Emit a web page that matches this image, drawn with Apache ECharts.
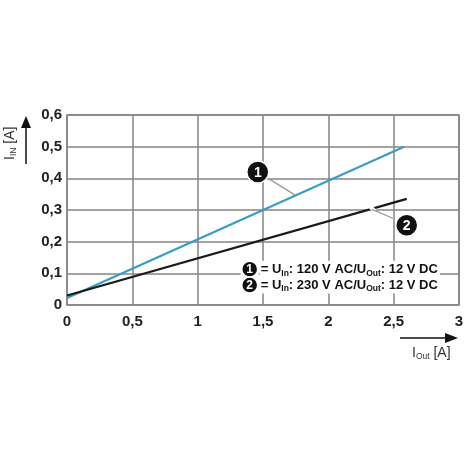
<!DOCTYPE html>
<html><head><meta charset="utf-8">
<script src="https://cdn.jsdelivr.net/npm/echarts@6/dist/echarts.min.js"></script>
<style>html,body{margin:0;padding:0;background:#fff}#c{width:470px;height:470px}</style>
</head><body><div id="c"></div>
<script>
const xTicks = ['0','0,5','1','1,5','2','2,5','3'];
const yTicks = ['0','0,1','0,2','0,3','0,4','0,5','0,6'];
const series1X = [0, 2.58];
const series1Y = [0.022, 0.5];
const series2X = [0, 2.6];
const series2Y = [0.03, 0.335];
const legend1 = ['U', 'In', ': 120 V AC/U', 'Out', ': 12 V DC'];
const legend2 = ['U', 'In', ': 230 V AC/U', 'Out', ': 12 V DC'];

const FONT = '"Liberation Sans", Arial, sans-serif';
const chart = echarts.init(document.getElementById('c'));
const grid = {left: 67, right: 11, top: 115, bottom: 165};
chart.setOption({
  animation: false,
  grid: Object.assign({show: true, borderColor: '#858585', borderWidth: 1.5, backgroundColor: '#fff'}, grid),
  xAxis: {
    type: 'value', min: 0, max: 3, interval: 0.5,
    axisLine: {show: false}, axisTick: {show: false},
    splitLine: {lineStyle: {color: '#858585', width: 1.5}},
    axisLabel: {fontFamily: FONT, fontWeight: 'bold', fontSize: 15, color: '#222', margin: 9,
      formatter: v => xTicks[Math.round(v * 2)]}
  },
  yAxis: {
    type: 'value', min: 0, max: 0.6, interval: 0.1,
    axisLine: {show: false}, axisTick: {show: false},
    splitLine: {lineStyle: {color: '#858585', width: 1.5}},
    axisLabel: {fontFamily: FONT, fontWeight: 'bold', fontSize: 15, color: '#222', margin: 5,
      formatter: v => yTicks[Math.round(v * 10)]}
  },
  series: [
    {type: 'line', data: series1X.map((x, i) => [x, series1Y[i]]), symbol: 'none',
     lineStyle: {color: '#3a9cc4', width: 2.2}, z: 3},
    {type: 'line', data: series2X.map((x, i) => [x, series2Y[i]]), symbol: 'none',
     lineStyle: {color: '#1a1a1a', width: 2.2}, z: 4}
  ]
});

function P(x, y) { return chart.convertToPixel({gridIndex: 0}, [x, y]); }
function circ(x, y, n) {
  const p = P(x, y);
  return [
    {type: 'circle', shape: {cx: p[0], cy: p[1], r: 11}, style: {fill: '#111', stroke: '#fff', lineWidth: 1.5}, z: 20},
    {type: 'text', x: p[0], y: p[1] + 1, style: {text: n, fill: '#fff', font: 'bold 14px ' + FONT, align: 'center', verticalAlign: 'middle'}, z: 21}
  ];
}
function leader(a, b) {
  const p = P(a[0], a[1]), q = P(b[0], b[1]);
  return {type: 'line', shape: {x1: p[0], y1: p[1], x2: q[0], y2: q[1]}, style: {stroke: '#999', lineWidth: 1.3}, z: 19};
}
function gapLine(a, b) {
  const p = P(a[0], a[1]), q = P(b[0], b[1]);
  return {type: 'line', shape: {x1: p[0], y1: p[1], x2: q[0], y2: q[1]}, style: {stroke: '#fff', lineWidth: 4}, z: 18};
}
function legendRow(x, y, n, parts) {
  const p = P(x, y);
  const items = circ(0, 0, n);
  const cx = p[0] + 5, cy = p[1];
  items[0].shape = {cx: cx, cy: cy, r: 8};
  items[1].x = cx; items[1].y = cy + 0.5; items[1].style.font = 'bold 12px ' + FONT;
  items.push({type: 'text', x: cx + 10, y: cy, z: 21, style: {
    text: '{m|= ' + parts[0] + '}{s|' + parts[1] + '}{m|' + parts[2] + '}{s|' + parts[3] + '}{m|' + parts[4] + '}',
    verticalAlign: 'middle', backgroundColor: '#fff', padding: [1, 2, 0, 1],
    rich: {
      m: {font: 'bold 13px ' + FONT, fill: '#111', lineHeight: 16, verticalAlign: 'middle'},
      s: {font: 'bold 8.5px ' + FONT, fill: '#111', lineHeight: 16, verticalAlign: 'bottom', padding: [6, 0, 0, 0]}
    }}});
  items.unshift({type: 'rect', shape: {x: cx - 9, y: cy - 8, width: 18, height: 16}, style: {fill: '#fff'}, z: 17});
  return items;
}

const g = [];
g.push(...circ(1.46, 0.42, '1'));
g.push(leader([1.54, 0.40], [1.745, 0.347]));
g.push(...circ(2.6, 0.252, '2'));
g.push(gapLine([2.32, 0.31], [2.36, 0.295]));
g.push(leader([2.334, 0.302], [2.494, 0.274]));
g.push(...legendRow(1.36, 0.113, '1', legend1));
g.push(...legendRow(1.36, 0.063, '2', legend2));

// axis titles with arrows
g.push({type: 'line', shape: {x1: 26, y1: 164, x2: 26, y2: 126}, style: {stroke: '#111', lineWidth: 1.5}});
g.push({type: 'polygon', shape: {points: [[21, 128], [31, 128], [26, 116]]}, style: {fill: '#111'}});
g.push({type: 'text', x: 10, y: 160, rotation: Math.PI / 2, z: 5, style: {
  text: '{m|I}{s|IN}{m| [A]}', verticalAlign: 'middle',
  rich: {m: {font: '14px ' + FONT, fill: '#333', lineHeight: 16}, s: {font: '8.5px ' + FONT, fill: '#333', lineHeight: 16, verticalAlign: 'bottom', padding: [6, 0, 0, 0]}}
}});
g.push({type: 'line', shape: {x1: 400, y1: 338, x2: 447, y2: 338}, style: {stroke: '#111', lineWidth: 1.5}});
g.push({type: 'polygon', shape: {points: [[445, 333], [445, 343], [458, 338]]}, style: {fill: '#111'}});
g.push({type: 'text', x: 412, y: 353, z: 5, style: {
  text: '{m|I}{s|Out}{m| [A]}', verticalAlign: 'middle',
  rich: {m: {font: '14px ' + FONT, fill: '#333', lineHeight: 16}, s: {font: '8.5px ' + FONT, fill: '#333', lineHeight: 16, verticalAlign: 'bottom', padding: [6, 0, 0, 0]}}
}});
chart.setOption({graphic: g});
</script></body></html>
